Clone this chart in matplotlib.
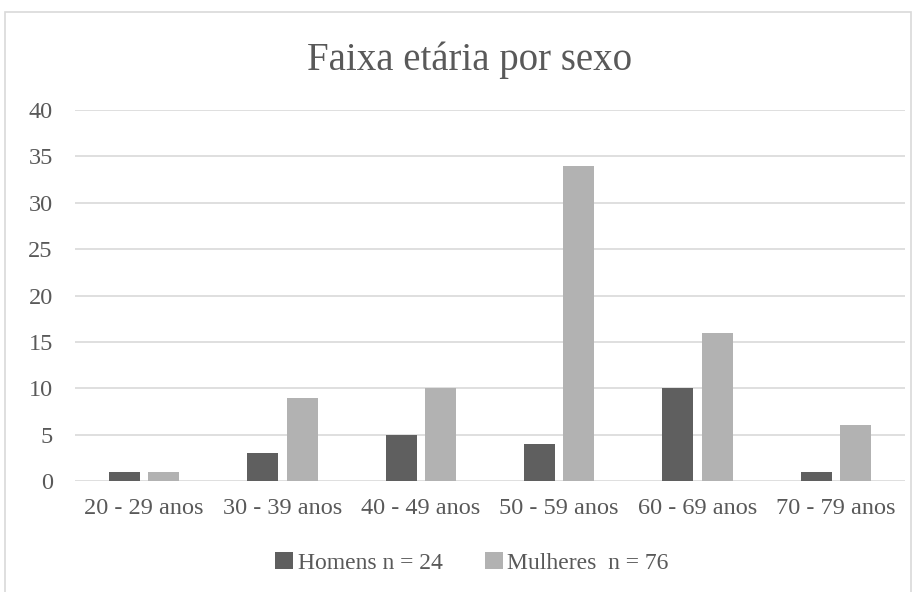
import matplotlib.pyplot as plt
import numpy as np

categorias = ["20 - 29 anos", "30 - 39 anos", "40 - 49 anos", "50 - 59 anos", "60 - 69 anos", "70 - 79 anos"]
homens = [1, 3, 5, 4, 10, 1]
mulheres = [1, 9, 10, 34, 16, 6]

cor_texto = "#595959"
plt.rcParams["font.family"] = ["Liberation Serif", "DejaVu Serif"]

fig = plt.figure(figsize=(9.15, 5.92), dpi=100)
# chart border
fig.patches.append(plt.Rectangle((5 / 915, -0.01), 906 / 915, 1 - 12 / 592 + 0.01,
                                 transform=fig.transFigure, fill=False,
                                 edgecolor="#d9d9d9", linewidth=1.2))

ax = fig.add_axes([75 / 915, 1 - 481 / 592, 830 / 915, 371 / 592])
x = np.arange(len(categorias))
w = 0.225
ax.bar(x - w / 2 - 0.03, homens, w, color="#5f5f5f", label="Homens n = 24", zorder=3)
ax.bar(x + w / 2 + 0.03, mulheres, w, color="#b2b2b2", label="Mulheres  n = 76", zorder=3)

ax.set_xlim(-0.5, len(categorias) - 0.5)
ax.set_ylim(0, 40)
ax.set_yticks(range(0, 41, 5))
ax.set_xticks(x)
ax.set_xticklabels(categorias)
ax.yaxis.grid(True, color="#d9d9d9", linewidth=1.2, zorder=0)
for s in ax.spines.values():
    s.set_visible(False)
ax.tick_params(length=0, labelsize=17.5, colors=cor_texto)
ax.tick_params(axis="x", pad=12)
ax.tick_params(axis="y", pad=16)

fig.text(470 / 915, 1 - 60 / 592, "Faixa etária por sexo", ha="center", va="center",
         fontsize=28, color=cor_texto)

fig.legend(loc="center", bbox_to_anchor=(472 / 915, 1 - 563 / 592), ncol=2, frameon=False,
           fontsize=17, labelcolor=cor_texto, handlelength=0.75, handleheight=0.75,
           handletextpad=0.2, columnspacing=1.8)

fig.savefig("out.png", dpi=100)
